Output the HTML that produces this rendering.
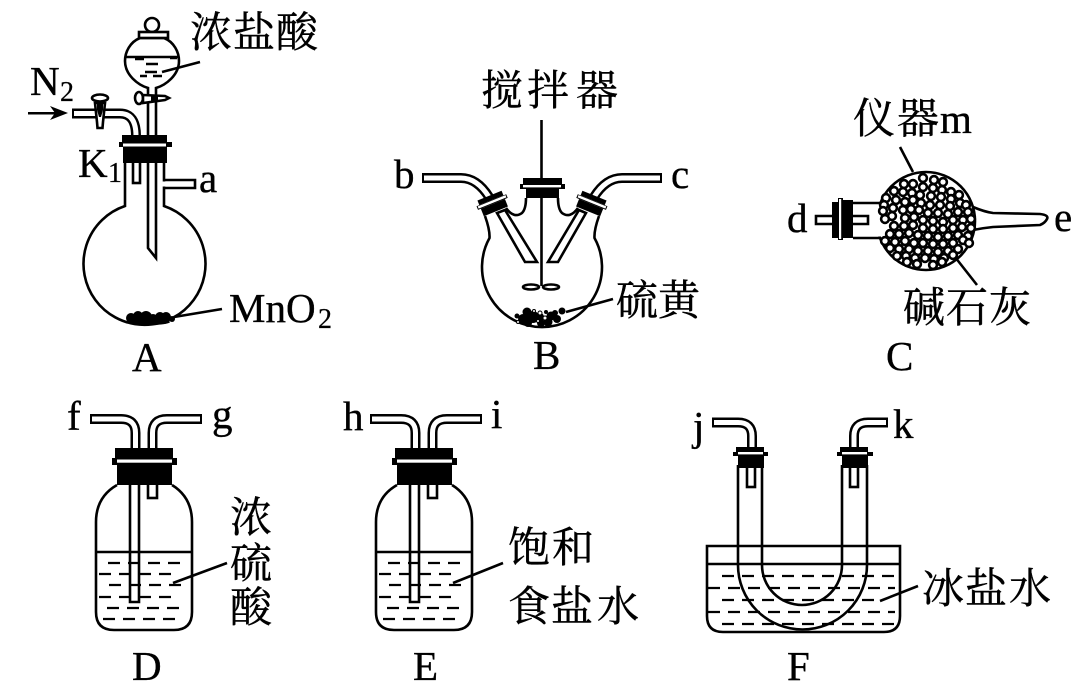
<!DOCTYPE html>
<html><head><meta charset="utf-8"><style>
html,body{margin:0;padding:0;background:#fff;width:1080px;height:699px;overflow:hidden}
svg{display:block;filter:blur(0.35px)}
.l{font-family:"Liberation Serif",serif;font-size:41px;fill:#000;stroke:#000;stroke-width:.35}
.s{font-family:"Liberation Serif",serif;font-size:28px;fill:#000;stroke:#000;stroke-width:.25}
.c{font-family:"Liberation Serif","Noto Serif CJK SC",serif;font-size:42px;fill:#000;stroke:#000;stroke-width:.45}
.ln{fill:none;stroke:#000;stroke-width:2.6}
.w{fill:#fff;stroke:#000;stroke-width:2.6}
.tb{fill:none;stroke:#000;stroke-width:10}
.tw{fill:none;stroke:#fff;stroke-width:5}
.d{fill:none;stroke:#000;stroke-width:2.2;stroke-dasharray:12 8}
g.b circle{r:3.9px}
</style></head><body>
<svg width="1080" height="699" viewBox="0 0 1080 699" xmlns="http://www.w3.org/2000/svg">
<rect width="1080" height="699" fill="#fff"/>

<!-- A -->
<path class="ln" d="M125 163V206A61 61 0 1 0 164 206V163"/>
<rect x="133" y="160" width="7" height="23" class="w"/>
<path class="ln" d="M164 180H195V188H164"/>
<rect x="162.500" y="181.500" width="4" height="5" fill="#fff"/>
<path class="w" d="M148 100V248L156 258V100Z"/>
<circle cx="152" cy="25" r="7" class="w"/>
<path class="w" d="M140 38H164C174 42 179 52 179 61C179 75 166 85 156 88V100H148V88C138 85 125 75 125 61C125 52 130 42 140 38Z"/>
<rect x="139" y="32" width="29" height="6" class="w"/>
<path class="ln" d="M126 57H178"/>
<path class="ln" d="M135 59H144M170 58H177M146 64H158M145 72H157M140 76H147M153 76H162"/>
<path class="ln" d="M162 72L200 62"/>
<ellipse cx="139" cy="98" rx="4" ry="6" class="w"/>
<path class="w" d="M143 95L165 96L169 98L165 100L143 103Z"/>
<path d="M151 95H158V102H151Z"/>
<path class="tb" d="M72 113.500H120Q136 113.500 136 136"/>
<path class="tw" d="M74 113.500H120Q136 113.500 136 136"/>
<path class="w" d="M95 103H105L103 122L102.500 128H97.500L97 122Z"/>
<ellipse cx="100" cy="98" rx="8" ry="3.500" class="w"/>
<path d="M97 101H103V110L101 117H99L97 110Z"/>
<path d="M122 135H167V142H172V147H167V163H123V147H119V142H122Z"/>
<rect x="123" y="143.500" width="43" height="3" fill="#fff"/>
<path d="M28 112H60V114.500H28Z"/><path d="M68 113L50 106L55 113L50 120Z"/>
<g fill="#000"><circle cx="131" cy="318" r="5"/><circle cx="138" cy="316" r="5"/><circle cx="146" cy="317" r="6"/><circle cx="153" cy="319" r="5"/><circle cx="160" cy="317" r="5"/><circle cx="166" cy="317" r="5"/><circle cx="172" cy="319" r="3"/><ellipse cx="150" cy="322" rx="20" ry="3"/></g>
<path class="ln" d="M174 317L222 309"/>
<text class="c" x="190 233 276" y="47">浓盐酸</text>
<text class="l" x="30" y="95">N</text><text class="s" x="60" y="101">2</text>
<text class="l" x="78" y="177">K</text><text class="s" x="108" y="182">1</text>
<text class="l" x="199" y="192">a</text>
<text class="l" x="229" y="322">MnO</text><text class="s" x="318" y="328">2</text>
<text class="l" x="132" y="371">A</text>

<!-- B -->
<path class="ln" d="M485 216Q490 230 489.500 238A60 60 0 1 0 594.500 238Q594 230 599 216"/>
<path class="ln" d="M506 208Q514 219 522 213Q526 209 526 198M578 208Q570 219 562 213Q558 209 558 198"/>
<path class="ln" d="M541.500 120V286"/>
<path class="w" d="M497 213L525 262H537L505 210Z"/>
<path class="w" d="M586 213L558 262H548L579 210Z"/>
<path d="M523 178H562V184H565V189H559V198H526V189H520V184H523Z"/>
<rect x="523" y="185" width="38" height="2.400" fill="#fff"/>
<path class="tb" d="M422 178H461Q477 178 489 197"/>
<path class="tw" d="M424 178H461Q477 178 489 197"/>
<path class="tb" d="M662 178H622Q606 178 594 197"/>
<path class="tw" d="M660 178H622Q606 178 594 197"/>
<g transform="translate(492.500 203) rotate(-22)"><rect x="-13" y="-8" width="26" height="5"/><rect x="-16" y="-3" width="32" height="4"/><rect x="-15" y="-2.400" width="30" height="2.400" fill="#fff"/><rect x="-13" y="1" width="26" height="8"/></g>
<g transform="translate(591.500 203) rotate(22)"><rect x="-13" y="-8" width="26" height="5"/><rect x="-16" y="-3" width="32" height="4"/><rect x="-15" y="-2.400" width="30" height="2.400" fill="#fff"/><rect x="-13" y="1" width="26" height="8"/></g>
<ellipse cx="531" cy="287" rx="8" ry="2.500" class="w"/><ellipse cx="551" cy="287" rx="8" ry="2.500" class="w"/>
<g fill="#000"><circle cx="527" cy="312" r="4.500"/><circle cx="523" cy="319" r="5"/><circle cx="533" cy="317" r="6"/><circle cx="528" cy="323" r="4"/><circle cx="551" cy="316" r="4.500"/><circle cx="557" cy="319" r="4"/><circle cx="562" cy="311" r="3.500"/><circle cx="548" cy="322" r="4.500"/><circle cx="517" cy="316" r="2.500"/><circle cx="541" cy="323" r="4"/><circle cx="555" cy="313" r="3"/><circle cx="540" cy="317" r="4"/><circle cx="546" cy="312" r="2"/></g>
<g fill="#fff" stroke="#000" stroke-width="1"><circle cx="540" cy="313" r="2"/><circle cx="545" cy="318" r="2"/><circle cx="538" cy="321" r="1.500"/><circle cx="534" cy="311" r="1.500"/><circle cx="518" cy="322" r="1.500"/></g>
<path class="ln" d="M566 312L613 299"/>
<text class="c" x="481 527 576" y="105">搅拌器</text>
<text class="c" x="616 658" y="315">硫黄</text>
<text class="l" x="394" y="188">b</text><text class="l" x="671" y="188">c</text>
<text class="l" x="533" y="369">B</text>

<!-- C -->
<path class="ln" d="M973 207Q985 212 993 213L1040 214Q1049 215 1047 219Q1045 223 1040 225L993 227Q983 228 973 230"/>
<circle cx="926" cy="221" r="49" class="w"/>
<rect x="872" y="204.500" width="32" height="32" fill="#fff"/>
<path class="ln" d="M853 203H881M853 238H881"/>
<path class="ln" d="M853 216H868V224H853M832 216H816V224H832"/>
<path d="M832 202H838V198H843V200H853V238H843V240H838V238H832Z"/>
<rect x="839" y="199" width="2.200" height="40" fill="#fff"/>
<g class="b" fill="#fff" stroke="#000" stroke-width="2.600"><circle cx="923" cy="178" r="3.500"/><circle cx="934" cy="180" r="3.500"/><circle cx="943" cy="182" r="3.500"/><circle cx="904" cy="184" r="3.500"/><circle cx="913" cy="184" r="3.500"/><circle cx="923" cy="187" r="3.500"/><circle cx="933" cy="188" r="3.500"/><circle cx="942" cy="190" r="3.500"/><circle cx="951" cy="192" r="3.500"/><circle cx="894" cy="191" r="3.500"/><circle cx="903" cy="192" r="3.500"/><circle cx="912" cy="193" r="3.500"/><circle cx="920" cy="195" r="3.500"/><circle cx="931" cy="196" r="3.500"/><circle cx="941" cy="197" r="3.500"/><circle cx="951" cy="199" r="3.500"/><circle cx="959" cy="195" r="3.500"/><circle cx="886" cy="198" r="3.500"/><circle cx="896" cy="200" r="3.500"/><circle cx="905" cy="202" r="3.500"/><circle cx="913" cy="200" r="3.500"/><circle cx="921" cy="203" r="3.500"/><circle cx="930" cy="205" r="3.500"/><circle cx="940" cy="205" r="3.500"/><circle cx="950" cy="206" r="3.500"/><circle cx="960" cy="203" r="3.500"/><circle cx="966" cy="205" r="3.500"/><circle cx="884" cy="205" r="3.500"/><circle cx="893" cy="208" r="3.500"/><circle cx="903" cy="210" r="3.500"/><circle cx="911" cy="209" r="3.500"/><circle cx="919" cy="210" r="3.500"/><circle cx="928" cy="213" r="3.500"/><circle cx="938" cy="213" r="3.500"/><circle cx="948" cy="214" r="3.500"/><circle cx="958" cy="212" r="3.500"/><circle cx="968" cy="212" r="3.500"/><circle cx="883" cy="211" r="3.500"/><circle cx="892" cy="216" r="3.500"/><circle cx="905" cy="218" r="3.500"/><circle cx="914" cy="217" r="3.500"/><circle cx="923" cy="220" r="3.500"/><circle cx="933" cy="221" r="3.500"/><circle cx="943" cy="222" r="3.500"/><circle cx="953" cy="220" r="3.500"/><circle cx="963" cy="220" r="3.500"/><circle cx="971" cy="219" r="3.500"/><circle cx="885" cy="219" r="3.500"/><circle cx="894" cy="226" r="3.500"/><circle cx="904" cy="226" r="3.500"/><circle cx="913" cy="225" r="3.500"/><circle cx="923" cy="228" r="3.500"/><circle cx="933" cy="229" r="3.500"/><circle cx="943" cy="229" r="3.500"/><circle cx="953" cy="228" r="3.500"/><circle cx="962" cy="227" r="3.500"/><circle cx="971" cy="228" r="3.500"/><circle cx="890" cy="234" r="3.500"/><circle cx="899" cy="234" r="3.500"/><circle cx="909" cy="233" r="3.500"/><circle cx="918" cy="235" r="3.500"/><circle cx="928" cy="236" r="3.500"/><circle cx="938" cy="237" r="3.500"/><circle cx="948" cy="236" r="3.500"/><circle cx="958" cy="235" r="3.500"/><circle cx="968" cy="236" r="3.500"/><circle cx="885" cy="241" r="3.500"/><circle cx="895" cy="242" r="3.500"/><circle cx="905" cy="241" r="3.500"/><circle cx="914" cy="243" r="3.500"/><circle cx="923" cy="243" r="3.500"/><circle cx="933" cy="244" r="3.500"/><circle cx="943" cy="244" r="3.500"/><circle cx="953" cy="243" r="3.500"/><circle cx="963" cy="240" r="3.500"/><circle cx="969" cy="243" r="3.500"/><circle cx="890" cy="248" r="3.500"/><circle cx="899" cy="249" r="3.500"/><circle cx="909" cy="249" r="3.500"/><circle cx="918" cy="251" r="3.500"/><circle cx="928" cy="251" r="3.500"/><circle cx="938" cy="252" r="3.500"/><circle cx="948" cy="251" r="3.500"/><circle cx="958" cy="249" r="3.500"/><circle cx="897" cy="256" r="3.500"/><circle cx="906" cy="256" r="3.500"/><circle cx="915" cy="258" r="3.500"/><circle cx="925" cy="258" r="3.500"/><circle cx="934" cy="259" r="3.500"/><circle cx="944" cy="258" r="3.500"/><circle cx="953" cy="255" r="3.500"/><circle cx="907" cy="262" r="3.500"/><circle cx="917" cy="264" r="3.500"/><circle cx="933" cy="265" r="3.500"/><circle cx="942" cy="262" r="3.500"/></g>
<path class="ln" d="M900 147L913 172M955 257L977 285"/>
<text class="c" x="853 897" y="133">仪器</text><text class="l" x="940" y="133">m</text>
<text class="c" x="903 946 989" y="322">碱石灰</text>
<text class="l" x="787" y="232">d</text><text class="l" x="1054" y="231">e</text>
<text class="l" x="886" y="370">C</text>

<!-- D -->
<g>
<path class="ln" d="M117 485C103 493 96 505 96 522V612Q96 630 114 630H174Q192 630 192 612V522C192 505 185 493 172 485"/>
<path class="ln" d="M96 552H192"/>
<path class="d" d="M108 563H186"/><path class="d" d="M99 574H176"/><path class="d" d="M109 585H186"/><path class="d" d="M99 597H176"/><path class="d" d="M107 608H185"/><path class="d" d="M103 619H180"/>
<path class="ln" d="M130 480V602H139V480"/>
<rect x="148" y="480" width="9" height="18" class="w"/>
<path class="tb" d="M90 419H121Q135.500 419 135.500 433V450"/>
<path class="tw" d="M92 419H121Q135.500 419 135.500 433V450"/>
<path class="tb" d="M202 419H167Q152.500 419 152.500 433V450"/>
<path class="tw" d="M200 419H167Q152.500 419 152.500 433V450"/>
<path d="M115 448H173V458H177V465H172V485H117V465H112V458H115Z"/>
<rect x="117" y="459.500" width="55" height="3.200" fill="#fff"/>
</g>
<path class="ln" d="M173 583L227 563"/>
<text class="l" x="67" y="430">f</text><text class="l" x="212" y="428">g</text>
<text class="c" x="230" y="532">浓</text><text class="c" x="230" y="578">硫</text><text class="c" x="230" y="622">酸</text>
<text class="l" x="132" y="680">D</text>

<!-- E -->
<g transform="translate(280 0)">
<path class="ln" d="M117 485C103 493 96 505 96 522V612Q96 630 114 630H174Q192 630 192 612V522C192 505 185 493 172 485"/>
<path class="ln" d="M96 552H192"/>
<path class="d" d="M108 563H186"/><path class="d" d="M99 574H176"/><path class="d" d="M109 585H186"/><path class="d" d="M99 597H176"/><path class="d" d="M107 608H185"/><path class="d" d="M103 619H180"/>
<path class="ln" d="M130 480V602H139V480"/>
<rect x="148" y="480" width="9" height="18" class="w"/>
<path class="tb" d="M90 419H121Q135.500 419 135.500 433V450"/>
<path class="tw" d="M92 419H121Q135.500 419 135.500 433V450"/>
<path class="tb" d="M202 419H167Q152.500 419 152.500 433V450"/>
<path class="tw" d="M200 419H167Q152.500 419 152.500 433V450"/>
<path d="M115 448H173V458H177V465H172V485H117V465H112V458H115Z"/>
<rect x="117" y="459.500" width="55" height="3.200" fill="#fff"/>
</g>
<path class="ln" d="M453 583L503 563"/>
<text class="l" x="343" y="430">h</text><text class="l" x="491" y="428">i</text>
<text class="c" x="508 552" y="562">饱和</text>
<text class="c" x="508 551 597" y="621">食盐水</text>
<text class="l" x="413" y="680">E</text>

<!-- F -->
<path class="ln" d="M707 546H900V616Q900 632 884 632H723Q707 632 707 616Z"/>
<path class="ln" d="M707 564H900"/>
<path class="d" d="M722 576H895"/><path class="d" d="M708 588H895"/><path class="d" d="M722 600H878"/><path class="d" d="M708 612H895"/><path class="d" d="M722 624H895"/>
<path class="ln" d="M738 465V565A64 64 0 0 0 867 565V465"/>
<path class="ln" d="M762 465V565A40 40 0 0 0 842 565V465"/>
<rect x="747" y="465" width="8" height="22" class="w"/>
<rect x="850" y="465" width="8" height="22" class="w"/>
<path class="tb" d="M712 422.500H738Q752 422.500 752 436V449"/>
<path class="tw" d="M714 422.500H738Q752 422.500 752 436V449"/>
<path class="tb" d="M888 422.500H868Q854 422.500 854 436V449"/>
<path class="tw" d="M886 422.500H868Q854 422.500 854 436V449"/>
<path d="M736 447H764V452H768V456H764V468H738V456H733V452H736Z"/>
<rect x="738" y="452" width="25" height="2.400" fill="#fff"/>
<path d="M840 447H868V452H873V456H868V468H842V456H837V452H840Z"/>
<rect x="842" y="452" width="25" height="2.400" fill="#fff"/>
<path class="ln" d="M880 601L918 586"/>
<text class="l" x="693" y="440">j</text><text class="l" x="893" y="438">k</text>
<text class="c" x="922 965 1009" y="603">冰盐水</text>
<text class="l" x="787" y="680">F</text>
</svg>
</body></html>
